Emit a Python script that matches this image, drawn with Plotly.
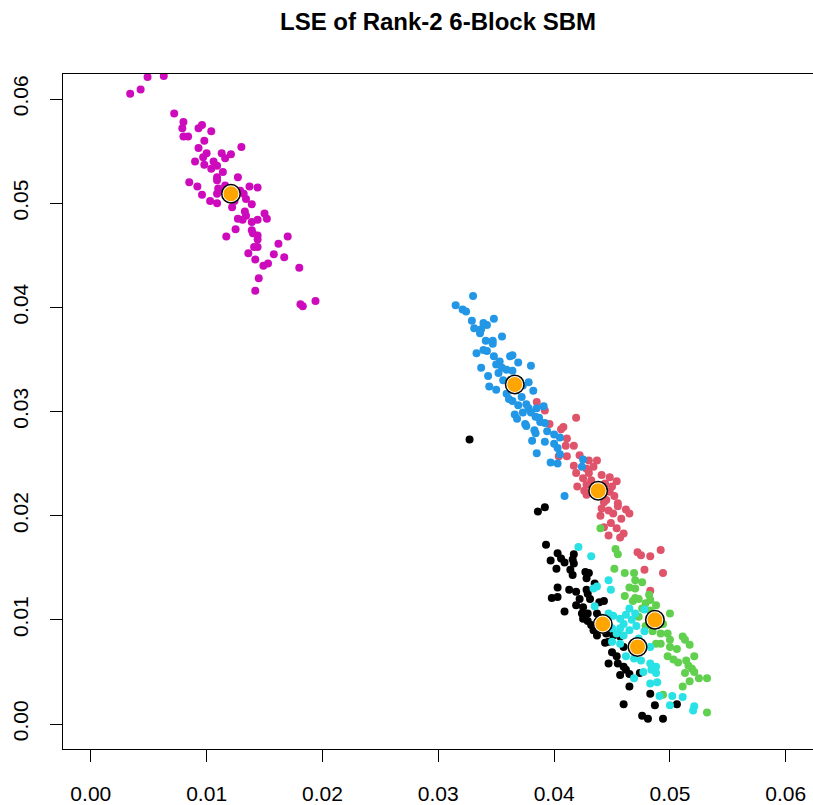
import plotly.graph_objects as go

# ---- data ----
black_x = [0.0327, 0.0386, 0.0392, 0.0393, 0.0403, 0.0406, 0.0397, 0.0417, 0.0416, 0.0409,
           0.0417, 0.0402, 0.0414, 0.0416, 0.0427, 0.0430, 0.0428, 0.0435, 0.0403, 0.0413,
           0.0419, 0.0428, 0.0429, 0.0398, 0.0403, 0.0431, 0.0439, 0.0443, 0.0425, 0.0409,
           0.0424, 0.0429, 0.0425, 0.0429, 0.0437, 0.0434, 0.0437, 0.0445, 0.0451, 0.0444,
           0.0447, 0.0457, 0.0450, 0.0454, 0.0460, 0.0447, 0.0455, 0.0460, 0.0462, 0.0457,
           0.0465, 0.0474, 0.0465, 0.0483, 0.0460, 0.0487, 0.0506, 0.0476, 0.0481, 0.0494,
           0.0419, 0.0432, 0.0422, 0.0441, 0.0446]
black_y = [0.0273, 0.0204, 0.0208, 0.0172, 0.0164, 0.0159, 0.0157, 0.0163, 0.0158, 0.0155,
           0.0154, 0.0149, 0.0148, 0.0143, 0.0146, 0.0145, 0.0140, 0.0135, 0.0131, 0.0129,
           0.0127, 0.0129, 0.0125, 0.0121, 0.0122, 0.0120, 0.0117, 0.0118, 0.0112, 0.0108,
           0.0106, 0.0106, 0.0101, 0.0099, 0.0106, 0.0090, 0.0085, 0.0087, 0.0085, 0.0078,
           0.0079, 0.0084, 0.0069, 0.0065, 0.0074, 0.0058, 0.0058, 0.0055, 0.0052, 0.0047,
           0.0048, 0.0049, 0.0036, 0.0029, 0.0019, 0.0018, 0.0019, 0.0008, 0.0005, 0.0005,
           0.0114, 0.0095, 0.0120, 0.0102, 0.0093]

red_x = [0.0385, 0.0392, 0.0396, 0.0408, 0.0406, 0.0419, 0.0411, 0.0410, 0.0417, 0.0404,
         0.0411, 0.0422, 0.0430, 0.0437, 0.0417, 0.0419, 0.0428, 0.0434, 0.0430, 0.0425,
         0.0441, 0.0448, 0.0454, 0.0428, 0.0444, 0.0450, 0.0426, 0.0448, 0.0452, 0.0428,
         0.0445, 0.0455, 0.0441, 0.0447, 0.0455, 0.0462, 0.0465, 0.0440, 0.0458, 0.0443,
         0.0451, 0.0449, 0.0443, 0.0454, 0.0447, 0.0460, 0.0457, 0.0472, 0.0475, 0.0483,
         0.0492, 0.0478, 0.0494, 0.0483, 0.0432, 0.0437, 0.0420]
red_y = [0.0309, 0.0301, 0.0288, 0.0285, 0.0283, 0.0294, 0.0274, 0.0267, 0.0267, 0.0257,
         0.0257, 0.0258, 0.0253, 0.0253, 0.0248, 0.0241, 0.0245, 0.0247, 0.0241, 0.0236,
         0.0239, 0.0237, 0.0233, 0.0230, 0.0231, 0.0228, 0.0224, 0.0223, 0.0219, 0.0220,
         0.0215, 0.0212, 0.0207, 0.0205, 0.0209, 0.0206, 0.0202, 0.0200, 0.0197, 0.0213,
         0.0202, 0.0193, 0.0189, 0.0188, 0.0181, 0.0183, 0.0179, 0.0165, 0.0162, 0.0161,
         0.0167, 0.0148, 0.0145, 0.0128, 0.0234, 0.0227, 0.0228]

green_x = [0.0440, 0.0453, 0.0455, 0.0452, 0.0461, 0.0469, 0.0470, 0.0476, 0.0470, 0.0461,
           0.0468, 0.0473, 0.0482, 0.0483, 0.0479, 0.0476, 0.0473, 0.0483, 0.0500, 0.0485,
           0.0492, 0.0498, 0.0500, 0.0511, 0.0513, 0.0517, 0.0488, 0.0492, 0.0500, 0.0506,
           0.0498, 0.0503, 0.0507, 0.0514, 0.0521, 0.0516, 0.0519, 0.0513, 0.0521, 0.0525,
           0.0532, 0.0517, 0.0511, 0.0494, 0.0532, 0.0488, 0.0494, 0.0479, 0.0470, 0.0488,
           0.0465]
green_y = [0.0188, 0.0168, 0.0163, 0.0149, 0.0145, 0.0145, 0.0138, 0.0136, 0.0130, 0.0123,
           0.0118, 0.0120, 0.0124, 0.0119, 0.0116, 0.0111, 0.0103, 0.0109, 0.0106, 0.0089,
           0.0087, 0.0087, 0.0081, 0.0084, 0.0081, 0.0076, 0.0077, 0.0077, 0.0074, 0.0072,
           0.0065, 0.0062, 0.0059, 0.0061, 0.0065, 0.0056, 0.0053, 0.0049, 0.0050, 0.0044,
           0.0044, 0.0041, 0.0036, 0.0028, 0.0011, 0.0102, 0.0096, 0.0094, 0.0121, 0.0114,
           0.0131]

blue_x = [0.0330, 0.0315, 0.0321, 0.0324, 0.0348, 0.0329, 0.0339, 0.0342, 0.0331, 0.0337,
          0.0336, 0.0355, 0.0341, 0.0347, 0.0347, 0.0333, 0.0339, 0.0342, 0.0348, 0.0362,
          0.0364, 0.0369, 0.0353, 0.0350, 0.0355, 0.0337, 0.0380, 0.0359, 0.0364, 0.0352,
          0.0343, 0.0378, 0.0344, 0.0382, 0.0359, 0.0372, 0.0364, 0.0369, 0.0376, 0.0378,
          0.0385, 0.0391, 0.0373, 0.0380, 0.0366, 0.0368, 0.0384, 0.0388, 0.0392, 0.0375,
          0.0376, 0.0383, 0.0394, 0.0384, 0.0400, 0.0405, 0.0392, 0.0381, 0.0400, 0.0403,
          0.0405, 0.0385, 0.0397, 0.0403, 0.0425, 0.0424, 0.0409, 0.0356, 0.0367, 0.0350,
          0.0373, 0.0361, 0.0387]
blue_y = [0.0411, 0.0402, 0.0398, 0.0396, 0.0389, 0.0387, 0.0385, 0.0383, 0.0380, 0.0379,
          0.0375, 0.0372, 0.0368, 0.0368, 0.0365, 0.0356, 0.0359, 0.0358, 0.0353, 0.0353,
          0.0354, 0.0347, 0.0348, 0.0345, 0.0342, 0.0342, 0.0344, 0.0340, 0.0339, 0.0337,
          0.0334, 0.0328, 0.0324, 0.0320, 0.0317, 0.0314, 0.0310, 0.0306, 0.0307, 0.0303,
          0.0303, 0.0305, 0.0299, 0.0299, 0.0297, 0.0293, 0.0295, 0.0290, 0.0289, 0.0288,
          0.0286, 0.0282, 0.0281, 0.0279, 0.0278, 0.0275, 0.0271, 0.0272, 0.0269, 0.0265,
          0.0259, 0.0260, 0.0251, 0.0250, 0.0254, 0.0247, 0.0219, 0.0330, 0.0322, 0.0321,
          0.0325, 0.0312, 0.0294]

cyan_x = [0.0421, 0.0432, 0.0447, 0.0449, 0.0437, 0.0434, 0.0435, 0.0465, 0.0478, 0.0462,
          0.0470, 0.0451, 0.0447, 0.0467, 0.0471, 0.0460, 0.0465, 0.0457, 0.0450, 0.0454,
          0.0460, 0.0450, 0.0457, 0.0483, 0.0462, 0.0469, 0.0475, 0.0483, 0.0488, 0.0484,
          0.0477, 0.0488, 0.0469, 0.0483, 0.0489, 0.0491, 0.0502, 0.0511, 0.0500, 0.0521,
          0.0520, 0.0473, 0.0457, 0.0443, 0.0478]
cyan_y = [0.0170, 0.0161, 0.0138, 0.0129, 0.0132, 0.0130, 0.0113, 0.0111, 0.0110, 0.0105,
          0.0106, 0.0104, 0.0106, 0.0100, 0.0094, 0.0096, 0.0090, 0.0092, 0.0092, 0.0087,
          0.0085, 0.0079, 0.0077, 0.0074, 0.0065, 0.0063, 0.0061, 0.0058, 0.0055, 0.0052,
          0.0050, 0.0049, 0.0044, 0.0039, 0.0040, 0.0027, 0.0027, 0.0026, 0.0018, 0.0017,
          0.0013, 0.0082, 0.0101, 0.0098, 0.0089]

magenta_x = [0.0049, 0.0063, 0.0034, 0.0043, 0.0072, 0.0080, 0.0079, 0.0080, 0.0084, 0.0093,
             0.0096, 0.0104, 0.0098, 0.0093, 0.0100, 0.0097, 0.0090, 0.0098, 0.0106, 0.0113,
             0.0116, 0.0121, 0.0130, 0.0109, 0.0104, 0.0114, 0.0109, 0.0109, 0.0127, 0.0085,
             0.0092, 0.0096, 0.0110, 0.0109, 0.0103, 0.0109, 0.0137, 0.0144, 0.0132, 0.0134,
             0.0139, 0.0122, 0.0133, 0.0134, 0.0127, 0.0131, 0.0139, 0.0144, 0.0150, 0.0152,
             0.0125, 0.0139, 0.0140, 0.0144, 0.0117, 0.0144, 0.0170, 0.0162, 0.0141, 0.0144,
             0.0136, 0.0158, 0.0167, 0.0142, 0.0149, 0.0153, 0.0180, 0.0145, 0.0142, 0.0183,
             0.0194, 0.0111, 0.0116, 0.0124, 0.0129, 0.0118, 0.0181]
magenta_y = [0.0621, 0.0622, 0.0605, 0.0609, 0.0586, 0.0578, 0.0572, 0.0564, 0.0564, 0.0572,
             0.0575, 0.0569, 0.0560, 0.0553, 0.0548, 0.0544, 0.0540, 0.0537, 0.0540, 0.0548,
             0.0543, 0.0547, 0.0554, 0.0536, 0.0533, 0.0530, 0.0525, 0.0522, 0.0525, 0.0520,
             0.0516, 0.0508, 0.0514, 0.0509, 0.0502, 0.0500, 0.0516, 0.0515, 0.0509, 0.0504,
             0.0499, 0.0496, 0.0492, 0.0488, 0.0485, 0.0484, 0.0482, 0.0484, 0.0490, 0.0485,
             0.0475, 0.0474, 0.0471, 0.0469, 0.0468, 0.0465, 0.0468, 0.0461, 0.0458, 0.0458,
             0.0452, 0.0451, 0.0448, 0.0446, 0.0440, 0.0442, 0.0438, 0.0428, 0.0416, 0.0401,
             0.0406, 0.0512, 0.0517, 0.0502, 0.0512, 0.0505, 0.0403]

center_x = [0.0442, 0.0438, 0.0487, 0.0366, 0.0472, 0.0121]
center_y = [0.0096, 0.0224, 0.0100, 0.0326, 0.0074, 0.0509]

tick_vals = [0.00, 0.01, 0.02, 0.03, 0.04, 0.05, 0.06]
tick_text = ["0.00", "0.01", "0.02", "0.03", "0.04", "0.05", "0.06"]

groups = [
    (black_x, black_y, "#000000"),
    (red_x, red_y, "#DF536B"),
    (green_x, green_y, "#61D04F"),
    (blue_x, blue_y, "#2297E6"),
    (cyan_x, cyan_y, "#28E2E5"),
    (magenta_x, magenta_y, "#CD0BBC"),
]

fig = go.Figure()
for gx, gy, col in groups:
    fig.add_trace(go.Scatter(
        x=gx, y=gy, mode="markers",
        marker=dict(symbol="circle", size=8, color=col, line=dict(width=0)),
        showlegend=False, hoverinfo="skip"))

fig.add_trace(go.Scatter(
    x=center_x, y=center_y, mode="markers",
    marker=dict(symbol="circle", size=17, color="#FFA500", line=dict(color="white", width=2)),
    showlegend=False, hoverinfo="skip"))
fig.add_trace(go.Scatter(
    x=center_x, y=center_y, mode="markers",
    marker=dict(symbol="circle-open", size=18.5, color="black", line=dict(color="black", width=1.5)),
    showlegend=False, hoverinfo="skip"))

axis_font = dict(family="Liberation Sans, Arial, sans-serif", size=21, color="black")

fig.update_layout(
    width=813, height=805,
    margin=dict(l=63, r=0, t=74, b=56),
    paper_bgcolor="white", plot_bgcolor="white",
    title=dict(text="<b>LSE of Rank-2 6-Block SBM</b>",
               font=dict(family="Liberation Sans, Arial, sans-serif", size=24, color="black"),
               x=(63 + 813) / 2 / 813, xanchor="center", xref="container",
               y=1 - 22 / 805, yanchor="middle", yref="container"),
    xaxis=dict(range=[-0.0024, 0.06235], showgrid=False, zeroline=False,
               showline=True, linecolor="black", linewidth=1.2, mirror=True,
               ticks="outside", ticklen=12, tickwidth=1.2, tickcolor="black",
               tickvals=tick_vals, ticktext=tick_text, tickfont=axis_font,
               ticklabelstandoff=14),
    yaxis=dict(range=[-0.0024, 0.0624], showgrid=False, zeroline=False,
               showline=True, linecolor="black", linewidth=1.2, mirror=False,
               ticks="outside", ticklen=12, tickwidth=1.2, tickcolor="black",
               tickvals=tick_vals, ticktext=tick_text, tickfont=axis_font,
               tickangle=-90, ticklabelstandoff=14),
)

fig.write_html("out.html")
